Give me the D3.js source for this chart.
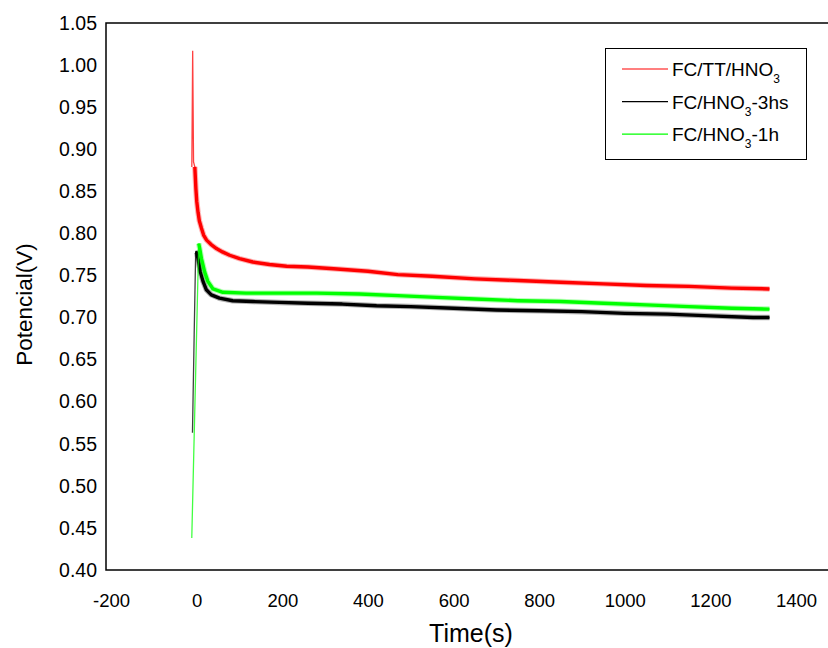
<!DOCTYPE html>
<html>
<head>
<meta charset="utf-8">
<script src="https://cdn.jsdelivr.net/npm/d3@7"></script>
<style>
  body { margin: 0; background: #fff; }
  svg text { font-family: Arial, "Liberation Sans", sans-serif; fill: #000; }
</style>
</head>
<body>
<script>
// values (time in s, potential in V)
const redTime = [-11.5, -9.5, -7.5, -4.5, -2, 0, 3, 6, 11, 16, 23, 33, 46, 60, 77, 100, 131, 170, 210, 260, 320, 400, 470, 550, 650, 750, 850, 950, 1050, 1150, 1250, 1338]
const redVal = [0.879, 1.017, 0.885, 0.879, 0.853, 0.838, 0.825, 0.815, 0.806, 0.798, 0.792, 0.787, 0.782, 0.778, 0.774, 0.770, 0.766, 0.763, 0.761, 0.760, 0.758, 0.755, 0.751, 0.749, 0.746, 0.744, 0.742, 0.740, 0.738, 0.737, 0.735, 0.734]

const blackTime = [-10, -6, -2.5, 0, 3, 8.5, 14.7, 22.5, 34, 53, 84, 131, 193, 260, 340, 420, 500, 600, 700, 800, 900, 1000, 1100, 1200, 1300, 1338]
const blackVal = [0.563, 0.68, 0.778, 0.777, 0.770, 0.754, 0.743, 0.733, 0.727, 0.723, 0.720, 0.719, 0.718, 0.717, 0.716, 0.714, 0.713, 0.711, 0.709, 0.708, 0.707, 0.705, 0.704, 0.702, 0.700, 0.700]

const greenTime = [-11.6, 4.6, 7, 11, 18.6, 26, 38, 61, 115, 193, 280, 380, 470, 560, 650, 750, 850, 950, 1050, 1150, 1250, 1338]
const greenVal = [0.438, 0.788, 0.782, 0.770, 0.754, 0.743, 0.734, 0.730, 0.729, 0.729, 0.729, 0.728, 0.726, 0.724, 0.722, 0.720, 0.719, 0.717, 0.715, 0.713, 0.711, 0.710]

const xTicks = [-200, 0, 200, 400, 600, 800, 1000, 1200, 1400]
const yTicks = [0.40, 0.45, 0.50, 0.55, 0.60, 0.65, 0.70, 0.75, 0.80, 0.85, 0.90, 0.95, 1.00, 1.05]

const series = [
  { name: 'FC/TT/HNO', sub: '3', tail: '', color: '#ff0000', t: redTime, v: redVal, bandFrom: -4.5 },
  { name: 'FC/HNO', sub: '3', tail: '-3hs', color: '#000000', t: blackTime, v: blackVal, bandFrom: -2.5 },
  { name: 'FC/HNO', sub: '3', tail: '-1h', color: '#00ff00', t: greenTime, v: greenVal, bandFrom: 4.6 }
]

const W = 828, H = 648
const svg = d3.select('body').append('svg')
  .attr('width', W).attr('height', H)

const x = d3.scaleLinear().domain([-212, 1400]).range([106, 796])
const y = d3.scaleLinear().domain([0.40, 1.05]).range([570, 23])
const x0 = x.range()[0]

// frame (right edge is cut off by the picture)
svg.append('path')
  .attr('d', `M${W},${y(1.05)}H${x0}V${y(0.40)}H${W}`)
  .attr('fill', 'none').attr('stroke', '#000').attr('stroke-width', 1.5)

// axes, labels only
const xAxis = svg.append('g').attr('transform', `translate(0,${y(0.40)})`)
  .call(d3.axisBottom(x).tickValues(xTicks).tickSize(0).tickPadding(24).tickFormat(d => String(d)))
const yAxis = svg.append('g').attr('transform', `translate(${x0},0)`)
  .call(d3.axisLeft(y).tickValues(yTicks).tickSize(0).tickPadding(9).tickFormat(d3.format('.2f')))
xAxis.select('.domain').remove()
yAxis.select('.domain').remove()
svg.selectAll('.tick text').attr('font-family', 'Arial, "Liberation Sans", sans-serif')
xAxis.selectAll('.tick text').attr('font-size', 18.5)
yAxis.selectAll('.tick text').attr('font-size', 19.5)

svg.append('text')
  .attr('x', 471).attr('y', 642)
  .attr('text-anchor', 'middle').attr('font-size', 25)
  .text('Time(s)')
svg.append('text')
  .attr('transform', `translate(32,${(y(0.40) + y(1.05)) / 2 + 8}) rotate(-90)`)
  .attr('text-anchor', 'middle').attr('font-size', 22.5)
  .text('Potencial(V)')

const line = d3.line()
  .x(d => x(d[0]))
  .y(d => y(d[1]))

const plot = svg.append('g')
series.forEach(s => {
  const pts = s.t.map((t, i) => [t, s.v[i]])
  const band = pts.filter(p => p[0] >= s.bandFrom)
  // thin trace through the jump
  plot.append('path')
    .attr('d', line(pts))
    .attr('fill', 'none').attr('stroke', s.color)
    .attr('stroke-width', 1.3).attr('stroke-opacity', 0.75)
  // fuzzy edge of the noisy signal
  plot.append('path')
    .attr('d', line(band))
    .attr('fill', 'none').attr('stroke', s.color)
    .attr('stroke-width', 5.5).attr('stroke-opacity', 0.3).attr('stroke-linejoin', 'round')
  // noisy band
  plot.append('path')
    .attr('d', line(band))
    .attr('fill', 'none').attr('stroke', s.color)
    .attr('stroke-width', 3.4).attr('stroke-linejoin', 'round')
})

// legend
const lg = svg.append('g')
lg.append('rect')
  .attr('x', 605.5).attr('y', 48.5).attr('width', 201).attr('height', 111)
  .attr('fill', '#fff').attr('stroke', '#000').attr('stroke-width', 1)
series.forEach((s, i) => {
  const ly = 69 + i * 32.6
  lg.append('line')
    .attr('x1', 622).attr('x2', 668).attr('y1', ly).attr('y2', ly)
    .attr('stroke', s.color).attr('stroke-width', 1.2)
  const txt = lg.append('text')
    .attr('x', 672).attr('y', ly + 7).attr('font-size', 19)
  txt.append('tspan').text(s.name)
  txt.append('tspan').attr('font-size', 12).attr('dy', 7).text(s.sub)
  if (s.tail) txt.append('tspan').attr('dy', -7).text(s.tail)
})
</script>
</body>
</html>
